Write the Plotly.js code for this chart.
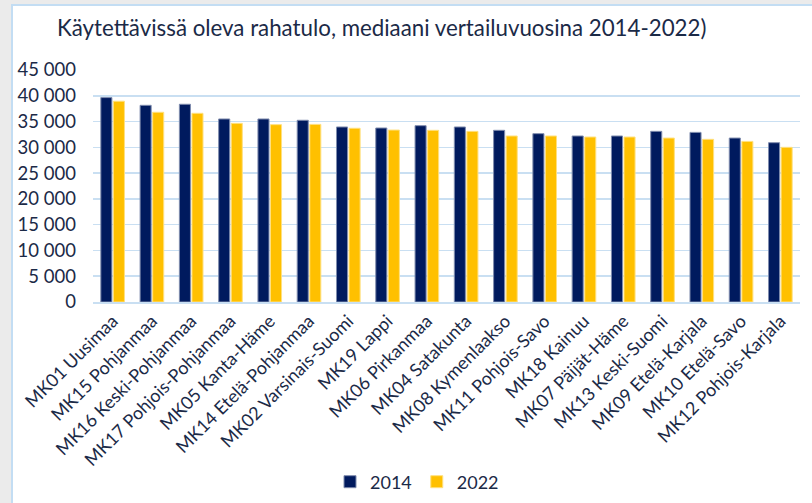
<!DOCTYPE html>
<html>
<head>
<meta charset="utf-8">
<script src="https://cdn.plot.ly/plotly-3.0.1.min.js"></script>
<style>
  html, body { margin: 0; padding: 0; background: #EBEBEB; width: 812px; height: 503px; overflow: hidden; }
  #card { position: absolute; left: 11px; top: 4px; width: 801px; height: 499px; background: #FFFFFF;
          border-left: 2px solid #C3DDF3; border-top: 2px solid #C3DDF3; box-sizing: border-box; }
  #chart { position: absolute; left: 0; top: 0; width: 812px; height: 503px; }
</style>
</head>
<body>
<div id="card"></div>
<div id="chart"></div>
<script>
const categories = [
  "MK01 Uusimaa", "MK15 Pohjanmaa", "MK16 Keski-Pohjanmaa", "MK17 Pohjois-Pohjanmaa",
  "MK05 Kanta-Häme", "MK14 Etelä-Pohjanmaa", "MK02 Varsinais-Suomi", "MK19 Lappi",
  "MK06 Pirkanmaa", "MK04 Satakunta", "MK08 Kymenlaakso", "MK11 Pohjois-Savo",
  "MK18 Kainuu", "MK07 Päijät-Häme", "MK13 Keski-Suomi", "MK09 Etelä-Karjala",
  "MK10 Etelä-Savo", "MK12 Pohjois-Karjala"
];
const values2014 = [39650, 38150, 38350, 35500, 35500, 35250, 33950, 33750, 34200, 33950, 33300, 32650, 32200, 32200, 33100, 32900, 31800, 30900];
const values2022 = [38950, 36800, 36600, 34650, 34400, 34450, 33700, 33350, 33300, 33100, 32200, 32200, 32000, 32000, 31800, 31550, 31150, 30000];
const seriesNames = ["2014", "2022"];
const yTicks = [0, 5000, 10000, 15000, 20000, 25000, 30000, 35000, 40000, 45000];
const yTickText = ["0", "5 000", "10 000", "15 000", "20 000", "25 000", "30 000", "35 000", "40 000", "45 000"];

const textColor = "#1B2A47";
const fontFam = "Lato, 'Open Sans', sans-serif";

const traces = [
  { type: "bar", name: seriesNames[0], x: categories, y: values2014,
    marker: { color: "#001A5E", line: { color: "#7F8CAE", width: 1 } } },
  { type: "bar", name: seriesNames[1], x: categories, y: values2022,
    marker: { color: "#FFC000", line: { color: "#FFE07F", width: 1 } } }
];

const layout = {
  width: 812, height: 503,
  paper_bgcolor: "rgba(0,0,0,0)",
  plot_bgcolor: "rgba(0,0,0,0)",
  margin: { l: 93, r: 12, t: 69.5, b: 200.5 },
  barmode: "group",
  bargap: 0.36,
  bargroupgap: 0.12,
  title: { text: "Käytettävissä oleva rahatulo, mediaani vertailuvuosina 2014-2022)",
           x: 57/812, xanchor: "left", y: 1 - 28/503, yanchor: "middle",
           font: { family: fontFam, size: 22.3, color: textColor } },
  xaxis: {
    tickangle: -45,
    tickfont: { family: fontFam, size: 18, color: textColor },
    showgrid: false,
    showline: true, linecolor: "#C9DFF2", linewidth: 1.5,
    ticks: "", automargin: false
  },
  yaxis: {
    range: [0, 45000],
    tickvals: yTicks, ticktext: yTickText,
    tickfont: { family: fontFam, size: 18.5, color: textColor },
    showgrid: true, gridcolor: "#C9DFF2", gridwidth: 1.5,
    zeroline: false, showline: false, ticks: "", ticklabelstandoff: 16,
    automargin: false
  },
  legend: {
    orientation: "h",
    x: (417 - 93) / (812 - 93 - 12),
    xanchor: "center",
    yref: "container",
    y: 1 - 482 / 503, yanchor: "middle",
    font: { family: fontFam, size: 18, color: textColor },
    traceorder: "normal"
  },
  showlegend: true
};

Plotly.newPlot("chart", traces, layout, { displayModeBar: false, staticPlot: true });
</script>
</body>
</html>
